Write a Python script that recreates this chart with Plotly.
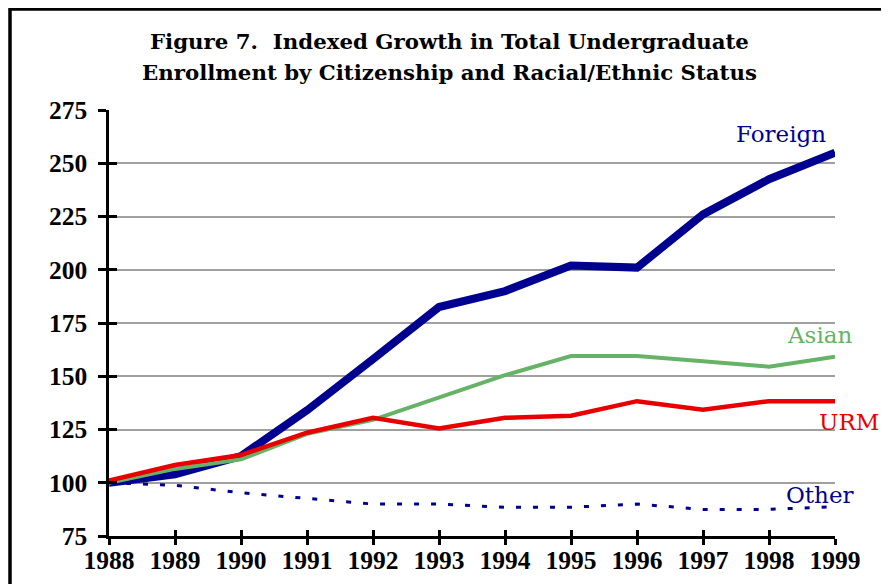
import plotly.graph_objects as go

years = [1988, 1989, 1990, 1991, 1992, 1993, 1994, 1995, 1996, 1997, 1998, 1999]
foreign = [100, 104, 112.5, 134, 158, 182.5, 190, 202, 201, 226, 242.5, 255]
asian = [100, 106.5, 111, 123, 129.5, 140, 150.5, 159.5, 159.5, 157, 154.5, 159.2]
urm = [101, 108.3, 113, 123.5, 130.5, 125.5, 130.5, 131.5, 138.3, 134.3, 138.3, 138.3]
other = [100, 98.8, 95.3, 92.6, 90, 90, 88.5, 88.5, 90, 87.5, 87.5, 88.8]
y_ticks = [75, 100, 125, 150, 175, 200, 225, 250, 275]
series_names = ["Foreign", "Asian", "URM", "Other"]
title_lines = ["Figure 7.  Indexed Growth in Total Undergraduate",
               "Enrollment by Citizenship and Racial/Ethnic Status"]

NAVY = "#000090"
GREEN = "#66b266"
RED = "#e80000"

# page body has an 8px default margin; figure sized to fill the rest
W, H = 881, 576
L, R, T, B = 101, 54, 102, 48
PW, PH = W - L - R, H - T - B


def px(x):
    return (x - 8 - L) / PW


def py(y):
    return (H - B - (y - 8)) / PH


fig = go.Figure()
fig.add_trace(go.Scatter(x=years, y=other, mode="lines", name="Other",
                         line=dict(color=NAVY, width=3, dash="5px,12px")))
fig.add_trace(go.Scatter(x=years, y=foreign, mode="lines", name="Foreign",
                         line=dict(color=NAVY, width=8)))
fig.add_trace(go.Scatter(x=years, y=asian, mode="lines", name="Asian",
                         line=dict(color=GREEN, width=4)))
fig.add_trace(go.Scatter(x=years, y=urm, mode="lines", name="URM",
                         line=dict(color=RED, width=4.5)))
# invisible trace for overlay axes (crossing ticks)
fig.add_trace(go.Scatter(x=[years[0]], y=[y_ticks[0]], xaxis="x2", yaxis="y2",
                         mode="markers", marker=dict(opacity=0), hoverinfo="skip"))

tickfont = dict(family="Liberation Serif", size=25.5, color="black", weight="bold")
fig.update_layout(
    width=W, height=H,
    margin=dict(l=L, r=R, t=T, b=B, autoexpand=False),
    paper_bgcolor="white", plot_bgcolor="white",
    showlegend=False,
    xaxis=dict(range=[years[0], years[-1]], tickvals=years, ticktext=[str(y) for y in years],
               showgrid=False, zeroline=False, showline=True, linecolor="black", linewidth=3,
               ticks="outside", ticklen=6, tickwidth=3, tickcolor="black", automargin=False,
               tickfont=tickfont, ticklabelstandoff=-7),
    yaxis=dict(range=[y_ticks[0], y_ticks[-1]], tickvals=y_ticks,
               showgrid=True, gridcolor="#a0a0a0", gridwidth=2, zeroline=False,
               showline=True, linecolor="black", linewidth=2.5, automargin=False,
               ticks="outside", ticklen=8, tickwidth=3, tickcolor="black",
               tickfont=tickfont, ticklabelstandoff=6),
    xaxis2=dict(overlaying="x", matches="x", anchor="y", range=[years[0], years[-1]],
                tickvals=years, showticklabels=False, showgrid=False, zeroline=False,
                ticks="inside", ticklen=6, tickwidth=3, tickcolor="black", side="bottom",
                automargin=False),
    yaxis2=dict(overlaying="y", matches="y", anchor="x", range=[y_ticks[0], y_ticks[-1]],
                tickvals=y_ticks, showticklabels=False, showgrid=False, zeroline=False,
                ticks="inside", ticklen=8, tickwidth=3, tickcolor="black", side="left",
                automargin=False),
)

for line_text, ly in zip(title_lines, [42, 72]):
    fig.add_annotation(xref="paper", yref="paper", x=px(449), y=py(ly),
                       xanchor="center", yanchor="middle", showarrow=False,
                       text="<b>" + line_text + "</b>",
                       font=dict(family="DejaVu Serif", size=21.3, color="black"))

labels = [
    ("Foreign", 828, 134, NAVY),
    ("Asian", 854, 334.5, GREEN),
    ("URM", 881, 421.5, RED),
    ("Other", 856, 494.5, NAVY),
]
for txt, lx, ly, col in labels:
    fig.add_annotation(x=px(lx), y=py(ly), xref="paper", yref="paper", text=txt,
                       showarrow=False, xanchor="right", yanchor="middle",
                       font=dict(family="DejaVu Serif", size=23, color=col))

# frame on left and top
fig.add_shape(type="path", xref="paper", yref="paper",
              path="M {x0} {y0} L {x0} {y1} L {x1} {y1}".format(
                  x0=px(10), y0=py(700), y1=py(9), x1=px(1000)),
              line=dict(color="black", width=3.5))

fig.write_html("out.html")
